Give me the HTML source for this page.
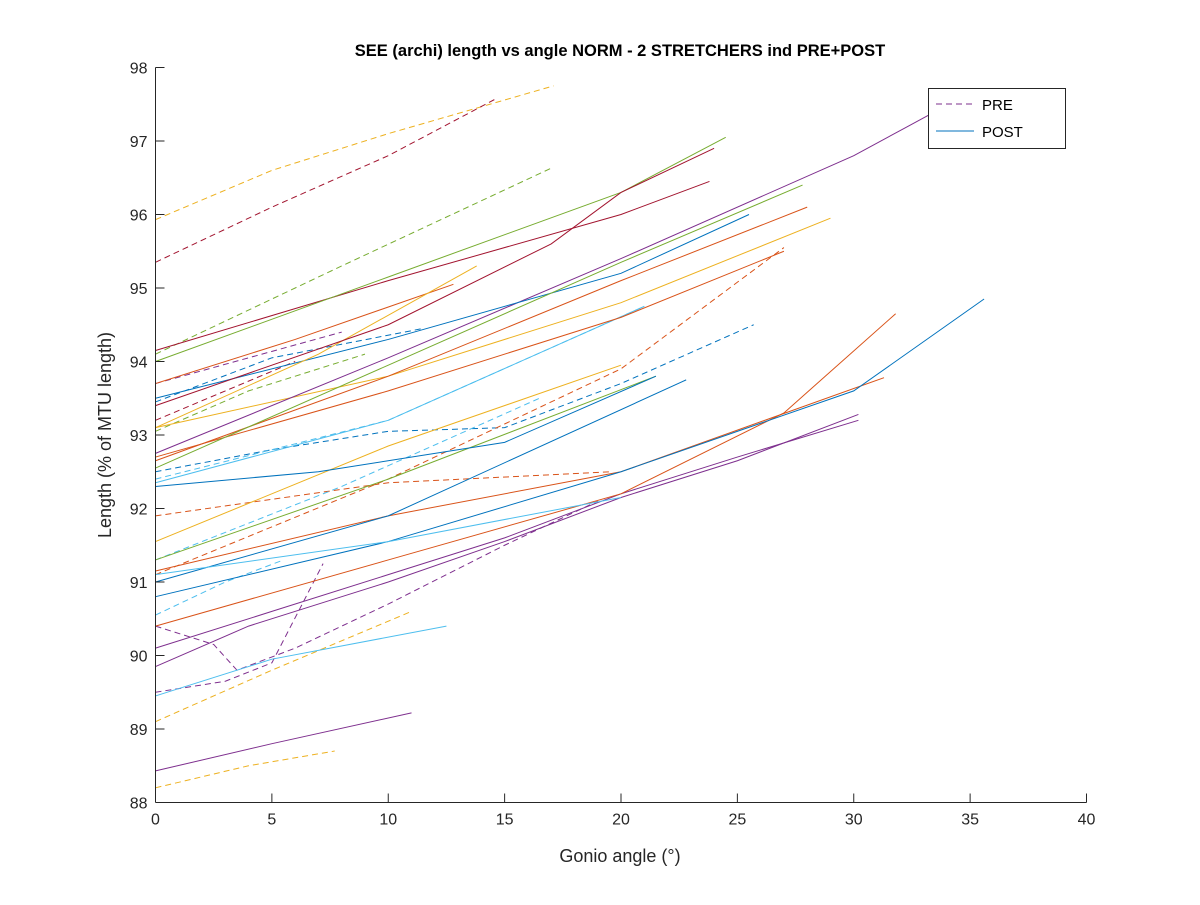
<!DOCTYPE html>
<html><head><meta charset="utf-8"><style>
body{margin:0;background:#fff;font-family:"Liberation Sans",sans-serif}
svg text{font-family:"Liberation Sans",sans-serif}
</style></head><body>
<svg id="chart" width="1200" height="900" viewBox="0 0 1200 900">
<rect x="0" y="0" width="1200" height="900" fill="#fff"/>
<text x="620" y="56" text-anchor="middle" font-size="16.5" font-weight="bold" fill="#000">SEE (archi) length vs angle NORM - 2 STRETCHERS ind PRE+POST</text>
<g id="marks"></g>
<line x1="155.5" y1="802.5" x2="1086.5" y2="802.5" stroke="#262626"/>
<line x1="155.5" y1="67.5" x2="155.5" y2="802.5" stroke="#262626"/>
<g id="axes"></g>
<text x="620" y="862" text-anchor="middle" font-size="18" fill="#262626">Gonio angle (°)</text>
<text transform="translate(111,435) rotate(-90)" text-anchor="middle" font-size="18" fill="#262626">Length (% of MTU length)</text>
<g>
<rect x="928.5" y="88.5" width="137" height="60" fill="#fff" stroke="#262626"/>
<line x1="936" y1="104" x2="974" y2="104" stroke="#7E2F8E" stroke-dasharray="6,4"/>
<text x="982" y="110" font-size="15" fill="#000">PRE</text>
<line x1="936" y1="131" x2="974" y2="131" stroke="#0072BD"/>
<text x="982" y="137" font-size="15" fill="#000">POST</text>
</g>
</svg>
<script>
const xTicks=[0,5,10,15,20,25,30,35,40];
const yTicks=[88,89,90,91,92,93,94,95,96,97,98];
const C={b:'#0072BD',o:'#D95319',y:'#EDB120',p:'#7E2F8E',g:'#77AC30',c:'#4DBEEE',r:'#A2142F'};
const seriesColor=['y','r','g','p','r','b','g','o','b','c','c','o','c','p','p','y','y',
 'p','c','p','p','o','o','b','b','c','g','y','b','c','y','o','p','o','b','r','g','o','y','r','g'];
const seriesDashed=[1,1,1,1,1,1,1,1,1,1,1,1,1,1,1,1,1,
 0,0,0,0,0,0,0,0,0,0,0,0,0,0,0,0,0,0,0,0,0,0,0,0];
const seriesX=[
[0,5,10,17.1],[0,5,10,14.6],[0,8,17],[0,4,8],[0,3,6],[0,5,11.5],[0,4,9],[0,10,19.6],[0,5,10,15,20,25.7],[0,10,21],[0,8,16.5],[0,10,20,27],[0,3,5.5],[0,1.5,2.5,3.5,6,10,15,19],[0,3,5,7.2],[0,5,11],[0,4,7.7],
[0,5,11],[0,5,12.5],[0,4,8,10,15,20,25,30.2],[0,5,10,15,20,25,30.2],[0,10,20,27,31.8],[0,10,20,31.3],[0,10,20,30,35.6],[0,10,22.8],[0,10,20],[0,10,21.5],[0,10,20],[0,7,15,21.5],[0,10,21],[0,10,20,29],[0,10,20,28],[0,10,20,30,33.5],[0,10,20,27],[0,10,20,25.5],[0,10,20,23.8],[0,10,20,24.5],[0,6,12.8],[0,7,13.8],[0,10,17,20,24],[0,10,20,27.8]];
const seriesY=[
[95.93,96.6,97.1,97.75],[95.35,96.1,96.8,97.57],[94.1,95.3,96.63],[93.7,94.05,94.4],[93.2,93.6,94.0],[93.45,94.05,94.45],[93.05,93.6,94.1],[91.9,92.35,92.5],[92.5,92.8,93.05,93.1,93.7,94.5],[92.4,93.2,94.75],[91.3,92.3,93.5],[91.1,92.4,93.9,95.55],[90.55,91.0,91.3],[90.4,90.25,90.15,89.8,90.1,90.7,91.5,92.1],[89.5,89.65,89.9,91.25],[89.1,89.8,90.6],[88.2,88.5,88.7],
[88.43,88.8,89.22],[89.45,89.95,90.4],[89.85,90.4,90.8,91.0,91.55,92.15,92.65,93.28],[90.1,90.6,91.1,91.6,92.2,92.7,93.2],[90.4,91.3,92.2,93.3,94.65],[91.15,91.9,92.5,93.78],[90.8,91.55,92.5,93.6,94.85],[91.0,91.9,93.75],[91.1,91.55,92.15],[91.3,92.4,93.8],[91.55,92.85,93.95],[92.3,92.5,92.9,93.8],[92.35,93.2,94.75],[93.1,93.8,94.8,95.95],[92.65,93.8,95.1,96.1],[92.75,94.05,95.4,96.8,97.4],[92.7,93.6,94.6,95.5],[93.5,94.3,95.2,96.0],[94.15,95.1,96.0,96.45],[94.0,95.15,96.3,97.05],[93.7,94.3,95.05],[93.1,94.1,95.3],[93.4,94.5,95.6,96.3,96.9],[92.55,93.95,95.35,96.4]];
const X0=155.5,X1=1086.5,Y0=802.5,Y1=67.5;
const sx=v=>X0+(v-0)/40*(X1-X0);
const sy=v=>Y0-(v-88)/10*(Y0-Y1);
const NS='http://www.w3.org/2000/svg';
const marks=document.getElementById('marks');
const axes=document.getElementById('axes');
seriesX.forEach((xs,i)=>{
  const p=document.createElementNS(NS,'polyline');
  p.setAttribute('points',xs.map((x,j)=>sx(x)+','+sy(seriesY[i][j])).join(' '));
  p.setAttribute('fill','none');
  p.setAttribute('stroke',C[seriesColor[i]]);
  p.setAttribute('stroke-width','1');
  if(seriesDashed[i])p.setAttribute('stroke-dasharray','6,4');
  
  
  marks.appendChild(p);
});
xTicks.forEach(t=>{
  const l=document.createElementNS(NS,'line');
  l.setAttribute('x1',sx(t));l.setAttribute('x2',sx(t));l.setAttribute('y1',Y0);l.setAttribute('y2',Y0-9);
  l.setAttribute('stroke','#262626');
  
  
  axes.appendChild(l);
  const tx=document.createElementNS(NS,'text');
  tx.setAttribute('x',sx(t));tx.setAttribute('y',Y0+22);tx.setAttribute('text-anchor','middle');
  tx.setAttribute('font-size','16');tx.setAttribute('fill','#262626');tx.textContent=t;
  
  
  axes.appendChild(tx);
});
yTicks.forEach(t=>{
  const l=document.createElementNS(NS,'line');
  l.setAttribute('x1',X0);l.setAttribute('x2',X0+9);l.setAttribute('y1',sy(t));l.setAttribute('y2',sy(t));
  l.setAttribute('stroke','#262626');
  
  
  axes.appendChild(l);
  const tx=document.createElementNS(NS,'text');
  tx.setAttribute('x',X0-8);tx.setAttribute('y',sy(t)+6);tx.setAttribute('text-anchor','end');
  tx.setAttribute('font-size','16');tx.setAttribute('fill','#262626');tx.textContent=t;
  
  
  axes.appendChild(tx);
});
</script>
</body></html>
